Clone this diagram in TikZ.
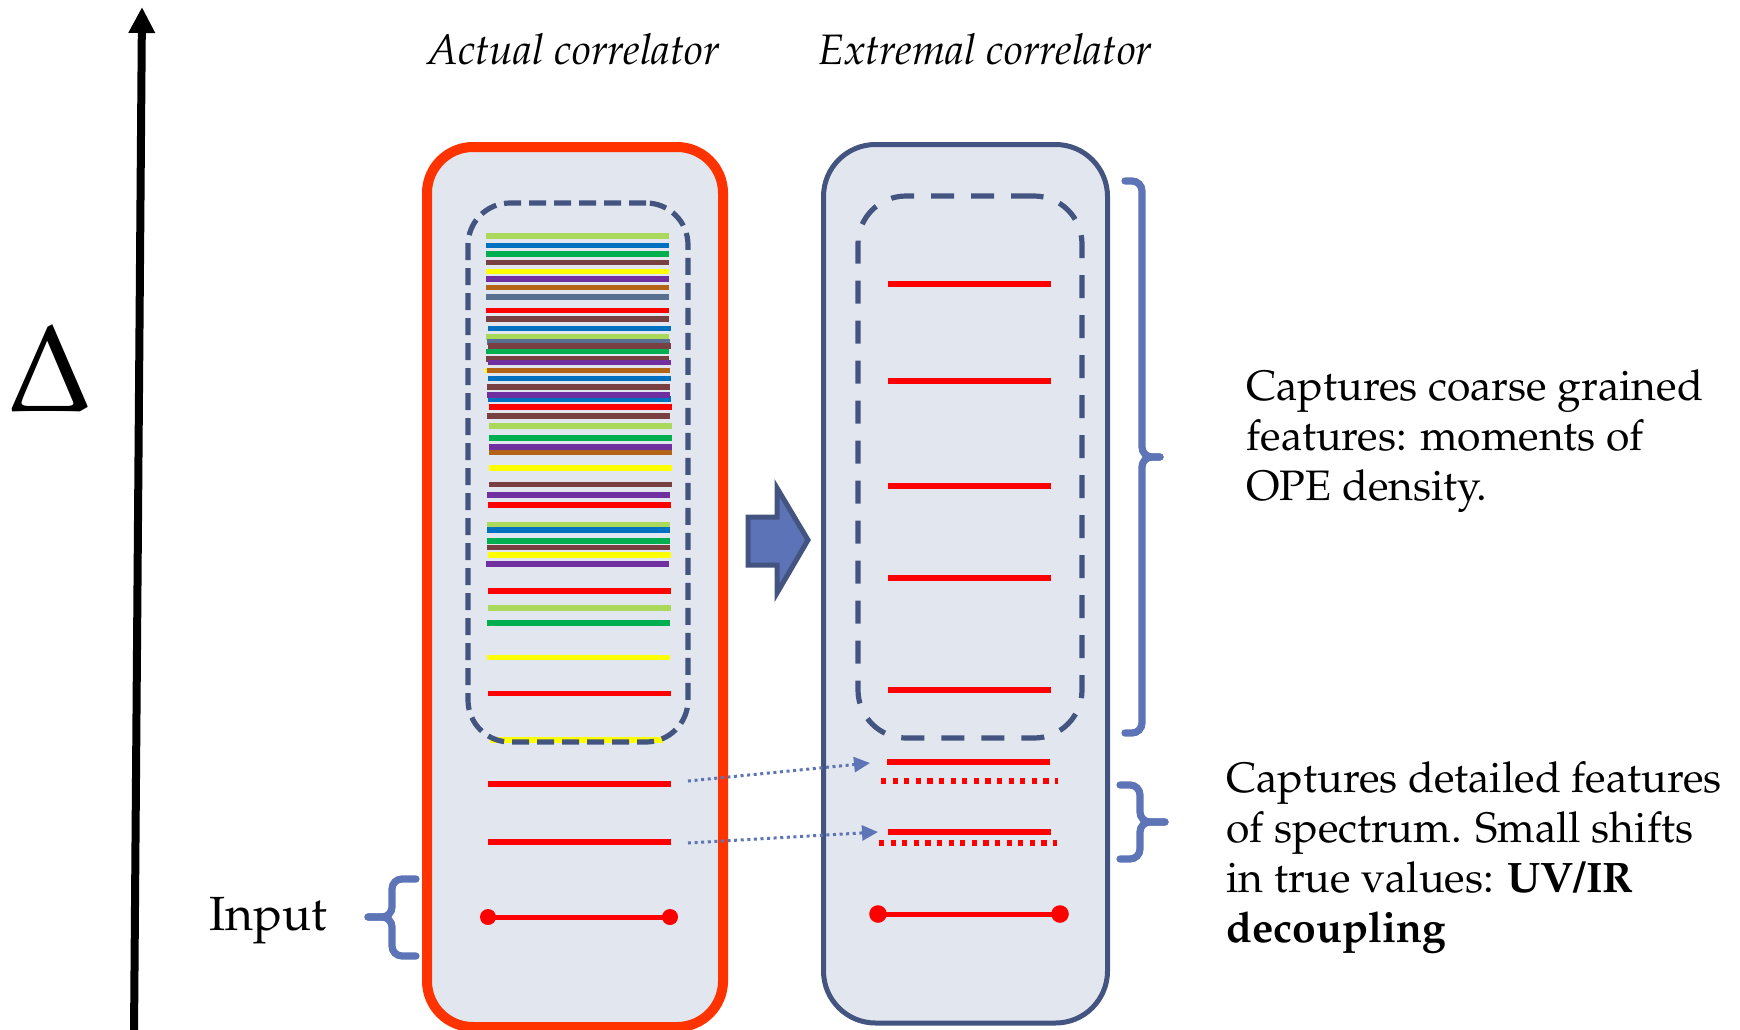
\documentclass[tikz,border=0pt]{standalone}
\usepackage[T1]{fontenc}
\usepackage{mathpazo}
\usetikzlibrary{arrows.meta}
\definecolor{boxfill}{RGB}{226,231,239}
\definecolor{redborder}{RGB}{255,51,0}
\definecolor{darkblue}{RGB}{68,84,128}
\definecolor{braceblue}{RGB}{93,116,183}
\definecolor{arrowfill}{RGB}{92,115,184}
\definecolor{lg}{RGB}{170,216,90}
\definecolor{bl}{RGB}{0,112,192}
\definecolor{gr}{RGB}{0,176,80}
\definecolor{br}{RGB}{120,64,64}
\definecolor{ye}{RGB}{255,255,0}
\definecolor{pu}{RGB}{112,48,160}
\definecolor{ob}{RGB}{180,100,22}
\definecolor{sl}{RGB}{88,112,146}
\definecolor{rd}{RGB}{255,0,0}
\begin{document}
\begin{tikzpicture}[x=0.5pt,y=-0.5pt,
  txt/.style={font=\fontsize{21.3}{25}\selectfont, inner sep=0pt, anchor=base west},
  ttl/.style={font=\fontsize{21.3}{25}\selectfont\itshape, inner sep=0pt, anchor=base west},
  spec/.style={line width=2.8pt},
  redline/.style={line width=2.7pt, rd},
  reddot/.style={line width=2.6pt, rd, dash pattern=on 2.6pt off 3.2pt},
  brace/.style={line width=3.6pt, braceblue, rounded corners=5pt, line cap=round},
  bluedot/.style={line width=1.5pt, braceblue, dash pattern=on 1.5pt off 1.8pt,
    -{Triangle[length=8pt,width=7.5pt]}},
  corrbox/.style={draw, fill=boxfill, minimum width=#1, inner sep=0pt},
]
\useasboundingbox (0,0) rectangle (1740,1029);

% axis
\coordinate (axb) at (134,1035);
\coordinate (axt) at (142,7);
\draw[line width=4pt, -{Triangle[length=13pt,width=12.5pt]}] (axb) -- (axt);
\node[inner sep=0pt, font=\fontsize{62}{62}\selectfont] (delta) at (50,368) {$\Delta$};

% titles
\node[ttl] (t1) at (427,64) {Actual correlator};
\node[ttl] (t2) at (818,64) {Extremal correlator};

% boxes
\node[corrbox=148pt, minimum height=440pt, draw=redborder, line width=5pt,
  rounded corners=23pt] (actual) at (575,587) {};
\node[corrbox=142pt, minimum height=439.25pt, draw=darkblue, line width=2.5pt,
  rounded corners=26pt] (extremal) at (965.5,583.75) {};

% colored spectrum in the actual correlator
\foreach \y/\c/\s in {235.7/lg/0, 245.3/bl/0, 254/gr/0, 262.3/br/0, 271.3/ye/0,
  279/pu/0, 287.3/ob/0, 297/sl/0, 310.3/rd/0, 318.7/br/0, 328.3/bl/2, 337/lg/0,
  341.7/sl/1, 345.7/br/2, 351.3/gr/0, 359/br/0, 362.3/pu/2, 370.3/ye/-1, 370.3/ob/1,
  378.3/bl/2, 386.7/br/1, 399/bl/2, 394.7/pu/1, 406.7/rd/3, 416/br/1, 425.7/lg/3,
  438/gr/3, 446.7/pu/3, 452.3/ob/3, 468/ye/3, 484.3/br/3, 494.7/pu/1, 505/rd/2,
  525/lg/1, 530/bl/1, 540.7/gr/1, 547.3/br/1, 555/ye/2, 563.7/pu/0, 590.7/rd/2,
  608/lg/2, 622.7/gr/1, 657.3/ye/1, 693.3/rd/2}
  \draw[spec, \c] (486+\s,\y) -- (669+\s,\y);
\draw[spec, ye] (490,740) -- (663,740);

% dashed regions
\node[draw=darkblue, line width=2.6pt, dash pattern=on 8.5pt off 4pt,
  rounded corners=21pt, minimum width=110pt, minimum height=269.5pt, inner sep=0pt]
  (dashA) at (578,472.5) {};
\node[draw=darkblue, line width=2.6pt, dash pattern=on 11.5pt off 8.5pt,
  rounded corners=24pt, minimum width=112pt, minimum height=271pt, inner sep=0pt]
  (dashB) at (970,467) {};

% extremal spectrum
\foreach \y in {284,381,486,578,690}
  \draw[redline] (888,\y) -- (1051,\y);

% low-lying states, actual
\coordinate (a1l) at (488,784); \coordinate (a1r) at (671,784);
\coordinate (a2l) at (488,842); \coordinate (a2r) at (671,842);
\draw[redline] (a1l) -- (a1r);
\draw[redline] (a2l) -- (a2r);
% low-lying states, extremal
\coordinate (e1l) at (887,762); \coordinate (e1r) at (1050,762);
\coordinate (e2l) at (888,832); \coordinate (e2r) at (1051,832);
\draw[redline] (e1l) -- (e1r);
\draw[redline] (e2l) -- (e2r);
\draw[reddot] (881,781) -- (1058,781);
\draw[reddot] (879,843) -- (1057,843);

% input operators
\coordinate (inAl) at (488,917); \coordinate (inAr) at (670,917);
\coordinate (inBl) at (878,914); \coordinate (inBr) at (1060,914);
\draw[redline, line width=2.5pt] (inAl) -- (inAr);
\fill[rd] (inAl) circle (4pt) (inAr) circle (4pt);
\draw[redline, line width=2.5pt] (inBl) -- (inBr);
\fill[rd] (inBl) circle (4.4pt) (inBr) circle (4.4pt);

% dotted arrows
\coordinate (d1s) at (688,781); \coordinate (d1t) at (870,763);
\coordinate (d2s) at (688,843); \coordinate (d2t) at (878,832);
\draw[bluedot] (d1s) -- (d1t);
\draw[bluedot] (d2s) -- (d2t);

% block arrow
\draw[fill=arrowfill, draw=darkblue, line width=2.5pt, line join=miter]
  (748,517) -- (777,517) -- (777,488) -- (808,540) -- (777,593) -- (777,565)
  -- (748,565) -- cycle;

% braces
\draw[brace] (1125,181) -| (1142,457) -- (1160,457);
\draw[brace] (1125,733) -| (1142,457) -- (1160,457);
\draw[brace] (1120,785) -| (1140,822) -- (1165,822);
\draw[brace] (1120,859) -| (1140,822) -- (1165,822);
\draw[brace] (416,879) -| (392,917) -- (368,917);
\draw[brace] (416,956) -| (392,917) -- (368,917);

% texts
\node[txt, font=\fontsize{24}{28}\selectfont] (inp) at (209,930) {Input};
\node[txt] (c1a) at (1246,400) {Captures coarse grained};
\node[txt] (c1b) at (1246,450) {features: moments of};
\node[txt] (c1c) at (1246,500) {OPE density.};
\node[txt] (c2a) at (1226,792) {Captures detailed features};
\node[txt] (c2b) at (1226,842) {of spectrum. Small shifts};
\node[txt] (c2c) at (1226,892) {in true values: \textbf{UV/IR}};
\node[txt] (c2d) at (1226,942) {\textbf{decoupling}};
\end{tikzpicture}
\end{document}
